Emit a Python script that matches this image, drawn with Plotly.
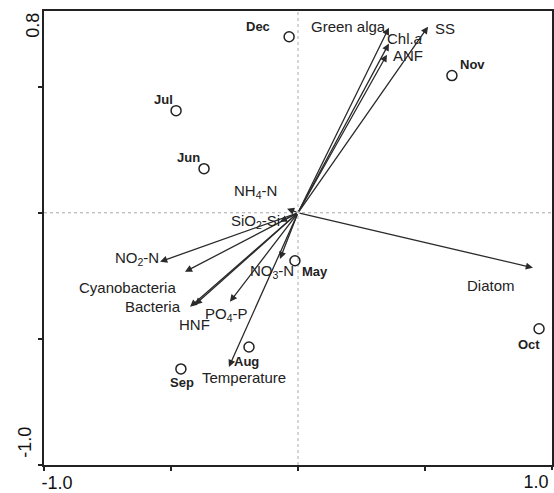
import plotly.graph_objects as go

# ---- data ----
site_names = ["Dec", "Jul", "Jun", "Nov", "Oct", "May", "Aug", "Sep"]
site_x = [-0.035, -0.480, -0.370, 0.606, 0.949, -0.012, -0.193, -0.461]
site_y = [0.698, 0.405, 0.175, 0.544, -0.460, -0.190, -0.532, -0.619]

var_names = ["Green alga", "Chl.<i>a</i>", "ANF", "SS", "NH<sub>4</sub>-N", "SiO<sub>2</sub>-Si",
             "NO<sub>2</sub>-N", "Cyanobacteria", "Bacteria", "HNF", "PO<sub>4</sub>-P",
             "NO<sub>3</sub>-N", "Temperature", "Diatom"]
var_x = [0.358, 0.358, 0.350, 0.512, -0.043, -0.071, -0.543, -0.445, -0.425, -0.406, -0.268,
         -0.071, -0.272, 0.925]
var_y = [0.734, 0.671, 0.627, 0.738, 0.016, -0.036, -0.194, -0.234, -0.373, -0.365, -0.353,
         -0.183, -0.611, -0.218]

x_range = [-1.0, 1.0]
y_range = [-1.0, 0.8]
x_minor = [-0.5, 0.0, 0.5]
y_minor = [-0.5, 0.0, 0.5]

# ---- label placement (pixel offsets: anchor, xshift, yshift) ----
site_lab = {
    "Dec": ("center", -31, 10), "Jul": ("center", -13, 11), "Jun": ("center", -16, 11),
    "Nov": ("center", 21, 11), "Oct": ("center", -10, -16), "May": ("center", 20, -11),
    "Aug": ("center", -2, -15), "Sep": ("center", 1, -14),
}
var_lab = {
    "Green alga": ("right", -1, 1), "Chl.<i>a</i>": ("center", 16, 5), "ANF": ("center", 21, -1),
    "SS": ("center", 17, -2), "NH<sub>4</sub>-N": ("center", -32, 17),
    "SiO<sub>2</sub>-Si": ("right", 2, 0), "NO<sub>2</sub>-N": ("right", 1, 3),
    "Cyanobacteria": ("center", -57, -16), "Bacteria": ("right", -7, 0),
    "HNF": ("center", 0, -20), "PO<sub>4</sub>-P": ("center", -3, -13),
    "NO<sub>3</sub>-N": ("center", -8, -13), "Temperature": ("center", 15, -11),
    "Diatom": ("center", -42, -18),
}

fig = go.Figure()

fig.add_trace(go.Scatter(
    x=site_x, y=site_y, mode="markers",
    marker=dict(symbol="circle-open", size=10, color="#222", line=dict(width=1.5)),
    hoverinfo="text", text=site_names, showlegend=False,
))
# empty trace so the overlay axes (used only for end tick labels) are drawn
fig.add_trace(go.Scatter(x=[], y=[], xaxis="x2", yaxis="y2", showlegend=False,
                         hoverinfo="skip"))

annotations = []
arrow_col = "#2a2a2a"
for name, x, y in zip(var_names, var_x, var_y):
    annotations.append(dict(
        x=x, y=y, ax=0, ay=0, xref="x", yref="y", axref="x", ayref="y",
        text="", showarrow=True, arrowhead=2, arrowsize=1.1, arrowwidth=1.3,
        arrowcolor=arrow_col, standoff=0, startstandoff=0,
    ))
for name, x, y in zip(var_names, var_x, var_y):
    anc, dx, dy = var_lab[name]
    annotations.append(dict(
        x=x, y=y, xref="x", yref="y", text=name, showarrow=False,
        xanchor=anc, yanchor="middle", xshift=dx, yshift=dy,
        font=dict(family="Liberation Sans, Arial", size=15, color="#222"),
    ))
for name, x, y in zip(site_names, site_x, site_y):
    anc, dx, dy = site_lab[name]
    annotations.append(dict(
        x=x, y=y, xref="x", yref="y", text="<b>" + name + "</b>", showarrow=False,
        xanchor=anc, yanchor="middle", xshift=dx, yshift=dy,
        font=dict(family="Liberation Sans, Arial", size=13, color="#222"),
    ))

fig.add_hline(y=0, line=dict(color="#aaaaaa", width=1, dash="dot"), layer="below")
fig.add_vline(x=0, line=dict(color="#aaaaaa", width=1, dash="dot"), layer="below")

tickfont = dict(family="Liberation Sans, Arial", size=18, color="#111")
axis_common = dict(
    showgrid=False, zeroline=False, automargin=False, ticklabeloverflow="allow",
    tickfont=tickfont, tickmode="array",
)
minor_x = dict(tickvals=x_minor, ticks="outside", ticklen=4, tickwidth=1.5, tickcolor="#222")
minor_y = dict(tickvals=y_minor, ticks="outside", ticklen=4, tickwidth=1.5, tickcolor="#222")

fig.update_layout(
    width=554, height=493,
    margin=dict(l=44, r=2, t=11, b=28),
    paper_bgcolor="white", plot_bgcolor="white",
    annotations=annotations,
    xaxis=dict(range=x_range, tickvals=[x_range[0]], ticktext=["-1.0"],
               ticklabelshift=13, ticklabelstandoff=-4,
               showline=True, mirror=True, linecolor="#222", linewidth=1.8,
               ticks="outside", ticklen=4, tickwidth=1.5, tickcolor="#222",
               minor=minor_x, **axis_common),
    xaxis2=dict(range=x_range, overlaying="x", matches="x", anchor="y", side="bottom",
                tickvals=[x_range[1]], ticktext=["1.0"],
                ticklabelshift=-16, ticklabelstandoff=-4,
                showline=False, ticks="outside", ticklen=4, tickwidth=1.5, tickcolor="#222",
                **axis_common),
    yaxis=dict(range=y_range, tickvals=[y_range[0]], ticktext=["-1.0"], tickangle=-90,
               ticklabelshift=-20,
               showline=True, mirror=True, linecolor="#222", linewidth=1.8,
               ticks="outside", ticklen=4, tickwidth=1.5, tickcolor="#222",
               minor=minor_y, **axis_common),
    yaxis2=dict(range=y_range, overlaying="y", matches="y", anchor="x", side="left",
                tickvals=[y_range[1]], ticktext=["0.8"], tickangle=-90,
                ticklabelshift=17,
                showline=False, ticks="", **axis_common),
)

fig.write_html("out.html", config={"displayModeBar": False},
               post_script="document.body.style.margin='0';")
